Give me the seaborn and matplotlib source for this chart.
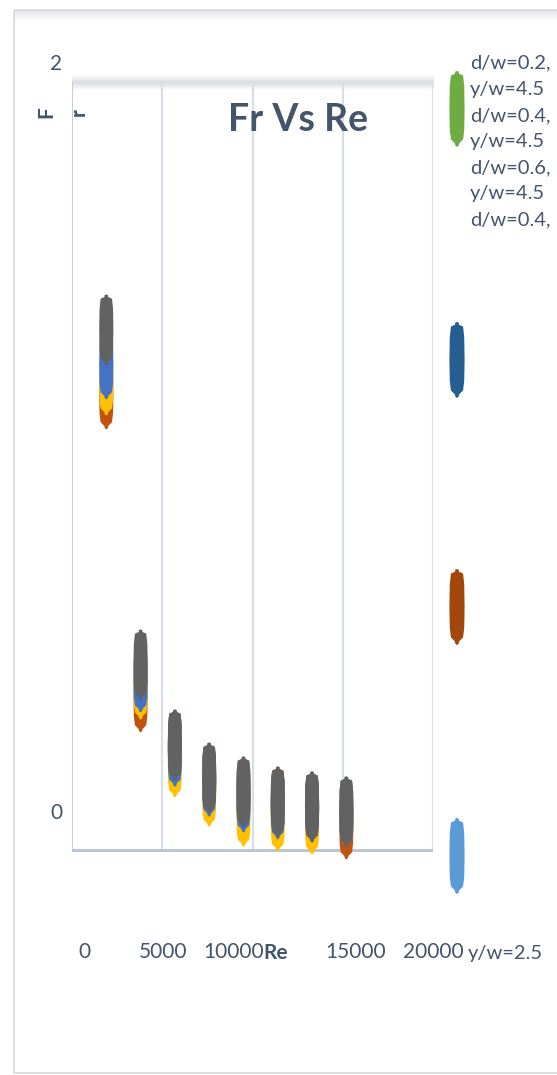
import numpy as np
import pandas as pd
import matplotlib
matplotlib.use("Agg")
import matplotlib.pyplot as plt
from matplotlib.path import Path
from matplotlib.transforms import ScaledTranslation
from matplotlib.patches import Rectangle
import seaborn as sns

# ---------------- data ----------------
re_values = [1900, 3800, 5700, 7600, 9500, 11400, 13300, 15200]
fr_orange = [1.190, 0.403, 0.278, 0.192, 0.156, 0.130, 0.117, 0.073]
fr_yellow = [1.226, 0.436, 0.234, 0.158, 0.106, 0.094, 0.086, 0.104]
fr_blue = [1.268, 0.455, 0.262, 0.184, 0.143, 0.125, 0.117, 0.104]
fr_gray = [1.356, 0.486, 0.278, 0.192, 0.156, 0.130, 0.117, 0.104]

series_order = ["d/w=0.6, y/w=4.5", "d/w=0.4, y/w=2.5", "d/w=0.4, y/w=4.5", "d/w=0.2, y/w=4.5"]
series_values = [fr_orange, fr_yellow, fr_blue, fr_gray]
series_colors = ["#C0530F", "#FFC000", "#4472C4", "#626262"]

legend_labels = ["d/w=0.2, y/w=4.5", "d/w=0.4, y/w=4.5", "d/w=0.6, y/w=4.5", "d/w=0.4, y/w=2.5"]
legend_colors = ["#6EAB42", "#255E91", "#A2470C", "#5B9BD5"]

x_ticks = [0, 5000, 10000, 15000, 20000]
y_ticks = [0, 2]

# ---------------- style ----------------
sns.set_style("white")
plt.rcParams['font.family'] = ['Lato', 'DejaVu Sans']
TXT = "#44546A"

W, H = 557, 1075
fig = plt.figure(figsize=(W / 100, H / 100), dpi=100)

# overlay axes in pixel coordinates for frame/legend
lax = fig.add_axes([0, 0, 1, 1], zorder=0)
lax.set_xlim(0, W)
lax.set_ylim(H, 0)
lax.axis("off")

ax = fig.add_axes([72 / W, 1 - 852 / H, (433 - 72) / W, (852 - 82) / H], zorder=2)
ax.patch.set_alpha(0)

# custom elongated marker
right = [(0.0, 1.0), (0.05, 0.98), (0.05, 0.93), (0.16, 0.88), (0.19, 0.6), (0.20, 0.0),
         (0.19, -0.55), (0.16, -0.80), (0.06, -0.90), (0.04, -0.97), (0.0, -1.0)]
left = [(-x, y) for (x, y) in right[-2:0:-1]]
verts = right + left + [right[0]]
codes = [Path.MOVETO] + [Path.LINETO] * (len(verts) - 2) + [Path.CLOSEPOLY]
marker_path = Path(verts, codes)

rows = []
for name, vals in zip(series_order, series_values):
    for r, f in zip(re_values, vals):
        rows.append({"Re": r, "Fr": f, "series": name})
df = pd.DataFrame(rows)

palette = dict(zip(series_order, series_colors))
msize_pt = 71 * 0.72
sns.scatterplot(data=df, x="Re", y="Fr", hue="series", hue_order=series_order,
                palette=palette, marker=marker_path, s=msize_pt ** 2,
                linewidth=0, edgecolor="none", legend=False, ax=ax,
                clip_on=False, zorder=4)

ax.set_xlim(0, 20000)
ax.set_ylim(0, 2)

# grid & spines
ax.set_xticks(x_ticks)
ax.set_yticks(y_ticks)
ax.grid(False)
for xv in x_ticks[1:-1]:
    ax.axvline(xv, color="#DADFE7", lw=1.6, zorder=1)
for s in ax.spines.values():
    s.set_visible(False)
ax.axvline(0, color="#B6C3D6", lw=1.2, zorder=1)
ax.axvline(20000, color="#DADFE7", lw=1.6, zorder=1)
ax.axhline(0, color="#BCC4D2", lw=4.2, zorder=1)
# soft top band
for dy in range(-7, 8):
    a = max(0.0, 1 - abs(dy) / 7.5) * 0.55
    lax.axhline(82 + dy, xmin=72 / W, xmax=433 / W, color="#BFC4CC", alpha=a, lw=0.8)

ax.tick_params(axis="both", length=0, labelsize=15, labelcolor=TXT)
ax.tick_params(axis="x", pad=65)
ax.tick_params(axis="y", pad=7)
ax.set_xticklabels([str(v) for v in x_ticks])
ax.set_yticklabels([str(v) for v in y_ticks])

x_off = [12, 1, -19, 13, 0]
for lbl, dx in zip(ax.get_xticklabels(), x_off):
    lbl.set_transform(lbl.get_transform() + ScaledTranslation(dx / 100, 0, fig.dpi_scale_trans))
y_off = [41, 20]
for lbl, dy in zip(ax.get_yticklabels(), y_off):
    lbl.set_transform(lbl.get_transform() + ScaledTranslation(0, dy / 100, fig.dpi_scale_trans))

ax.set_xlabel("Re", fontsize=15, fontweight="bold", color=TXT)
ax.xaxis.set_label_coords((276 - 72) / 361, (852 - 953) / 770)
ax.xaxis.label.set_va("center")
ax.set_ylabel("F", fontsize=15, fontweight="bold", color=TXT)
ax.yaxis.set_label_coords((46 - 72) / 361, (852 - 112) / 770)
ax.yaxis.label.set_va("center")
ax.text((79 - 72) / 361, (852 - 112) / 770, "r", transform=ax.transAxes, rotation=90,
        fontsize=15, fontweight="bold", color=TXT, ha="center", va="center")

ax.text((298 - 72) / 361, (852 - 120) / 770, "Fr Vs Re", transform=ax.transAxes,
        fontsize=27, fontweight="bold", color=TXT, ha="center", va="center")

# outer chart frame
lax.add_patch(Rectangle((14, 10), 560, 1063, fill=False, ec="#D9D9D9", lw=1.2))
for dy in range(0, 10):
    lax.axhline(10 + dy, xmin=14 / W, xmax=1, color="#D3D6DB", alpha=0.6 * (1 - dy / 10), lw=0.8)

# legend
leg_y = [109, 360, 607, 856]
lax.scatter([457] * 4, leg_y, marker=marker_path, s=(76 * 0.72) ** 2,
            c=legend_colors, linewidths=0, zorder=3)
lines = []
for lab in legend_labels:
    a, b = lab.split(", ")
    lines += [a + ",", b]
for i, t in enumerate(lines[:-1]):
    lax.text(470, 63 + i * 26.2, t, fontsize=14.5, color=TXT, ha="left", va="center")
lax.text(468, 953, lines[-1], fontsize=14.5, color=TXT, ha="left", va="center")

fig.savefig("out.png", dpi=100)
